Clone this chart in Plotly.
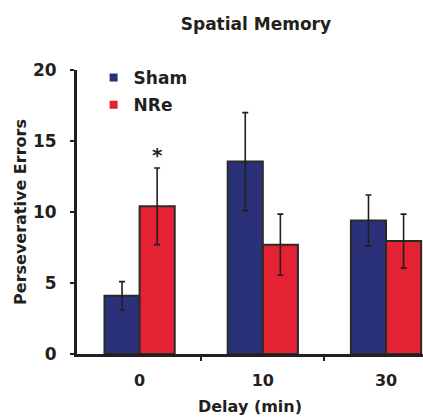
import plotly.graph_objects as go

# ---- data ----
delays = ["0", "10", "30"]
sham_mean = [4.1, 13.55, 9.4]
sham_err = [1.0, 3.45, 1.8]
nre_mean = [10.4, 7.7, 7.95]
nre_err = [2.7, 2.15, 1.9]
nre_sig = ["*", "", ""]

SHAM_C = "#2B3179"
NRE_C = "#E42233"
INK = "#231F20"
FONT = "DejaVu Sans, Arial, sans-serif"

xpos = list(range(len(delays)))
bargap = 0.43

fig = go.Figure()
for name, vals, errs, col in [("Sham", sham_mean, sham_err, SHAM_C),
                               ("NRe", nre_mean, nre_err, NRE_C)]:
    fig.add_trace(go.Bar(
        x=xpos, y=vals, name=name, showlegend=False,
        marker=dict(color=col, line=dict(color="#2a2a2a", width=2)),
        error_y=dict(type="data", array=errs, visible=True,
                     color=INK, thickness=1.6, width=3),
    ))
    # legend-only entries with small square swatches
    fig.add_trace(go.Scatter(
        x=[None], y=[None], mode="markers", name=f"<b>{name}</b>", legendgroup=name,
        marker=dict(symbol="square", size=8, color=col),
    ))

# significance marks above NRe bars
offset = (1 - bargap) / 4
for i, s in enumerate(nre_sig):
    if s:
        fig.add_annotation(x=xpos[i] + offset, y=nre_mean[i] + nre_err[i],
                           text=f"<b>{s}</b>", showarrow=False,
                           yanchor="bottom", yshift=-1,
                           font=dict(family=FONT, size=20, color=INK))

fig.update_layout(
    width=423, height=419,
    margin=dict(l=77, r=0, t=70, b=65),
    paper_bgcolor="white", plot_bgcolor="white",
    barmode="group", bargap=bargap, bargroupgap=0,
    font=dict(family=FONT, color=INK, size=16),
    title=dict(text="<b>Spatial Memory</b>", xref="container", yref="container",
               x=0.605, y=0.943, xanchor="center", yanchor="middle",
               font=dict(family=FONT, size=17, color=INK)),
    legend=dict(x=0.048, y=1.035, xanchor="left", yanchor="top",
                bgcolor="rgba(0,0,0,0)", tracegroupgap=2, itemwidth=30,
                font=dict(family=FONT, size=17, color=INK)),
    xaxis=dict(range=[-0.508, 2.30], tickvals=xpos, automargin=False,
               ticktext=[f"<b>{d}</b>" for d in delays],
               ticks="", showgrid=False, zeroline=False,
               showline=True, linecolor=INK, linewidth=3,
               ticklabelstandoff=10,
               tickfont=dict(family=FONT, size=16, color=INK),
               minor=dict(tickvals=[0.5, 1.5], ticks="outside", ticklen=4,
                          tickwidth=2, tickcolor=INK),
               title=dict(text="<b>Delay (min)</b>", standoff=12,
                          font=dict(family=FONT, size=16, color=INK))),
    yaxis=dict(range=[0, 20], tickvals=[0, 5, 10, 15, 20], automargin=False,
               ticktext=[f"<b>{v}</b>" for v in [0, 5, 10, 15, 20]],
               ticks="outside", ticklen=4, tickwidth=2, tickcolor=INK,
               showgrid=False, zeroline=False,
               showline=True, linecolor=INK, linewidth=3,
               ticklabelstandoff=10,
               tickfont=dict(family=FONT, size=17, color=INK),
               title=dict(text="<b>Perseverative Errors</b>", standoff=3,
                          font=dict(family=FONT, size=16, color=INK))),
)

fig.write_html("out.html", config={"displayModeBar": False},
               post_script="document.body.style.margin='0';document.body.style.padding='0';")
